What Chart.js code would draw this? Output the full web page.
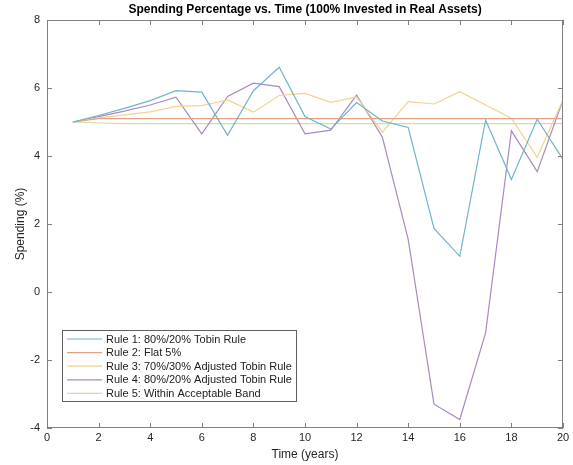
<!DOCTYPE html>
<html>
<head>
<meta charset="utf-8">
<script src="https://cdn.jsdelivr.net/npm/chart.js@4"></script>
<style>
  html, body { margin: 0; padding: 0; background: #fff; }
  #wrap { width: 573px; height: 465px; }
</style>
</head>
<body>
<div id="wrap"><canvas id="spendingChart" width="573" height="465"></canvas></div>
<script>
// values
const years = [1, 2, 3, 4, 5, 6, 7, 8, 9, 10, 11, 12, 13, 14, 15, 16, 17, 18, 19, 20]
const rule1 = [5.00, 5.19, 5.40, 5.63, 5.92, 5.88, 4.61, 5.92, 6.61, 5.16, 4.79, 5.57, 5.03, 4.84, 1.87, 1.05, 5.06, 3.31, 5.08, 3.90]
const rule2 = [5.00, 5.10, 5.10, 5.10, 5.10, 5.10, 5.10, 5.10, 5.10, 5.10, 5.10, 5.10, 5.10, 5.10, 5.10, 5.10, 5.10, 5.10, 5.10, 5.10]
const rule3 = [5.00, 5.12, 5.21, 5.30, 5.46, 5.48, 5.65, 5.29, 5.78, 5.84, 5.58, 5.74, 4.70, 5.60, 5.53, 5.89, 5.50, 5.11, 3.96, 5.65]
const rule4 = [5.00, 5.16, 5.32, 5.50, 5.73, 4.65, 5.75, 6.14, 6.04, 4.65, 4.76, 5.79, 4.55, 1.55, -3.30, -3.75, -1.20, 4.74, 3.54, 5.65]
const rule5 = [5.00, 4.97, 4.95, 4.95, 4.95, 4.95, 4.95, 4.95, 4.95, 4.95, 4.95, 4.95, 4.95, 4.95, 4.95, 4.95, 4.95, 4.95, 4.95, 4.95]
const seriesNames = [
    "Rule 1: 80%/20% Tobin Rule",
    "Rule 2: Flat 5%",
    "Rule 3: 70%/30% Adjusted Tobin Rule",
    "Rule 4: 80%/20% Adjusted Tobin Rule",
    "Rule 5: Within Acceptable Band",
]
const seriesColors = ["#6fb4cc", "#dfa487", "#f0d490", "#a98cbd", "#cddfa6"]
const xTicks = [0, 2, 4, 6, 8, 10, 12, 14, 16, 18, 20]
const yTicks = [-4, -2, 0, 2, 4, 6, 8]

const chartTitle = "Spending Percentage vs. Time (100% Invested in Real Assets)"
const FONT = "'Liberation Sans', Arial, Helvetica, sans-serif"

function toPoints(vals) {
    return vals.map((v, i) => ({x: years[i], y: v}))
}

// matlab style: box, inward ticks, title and legend inside the axes
const matlabBox = {
    id: "matlabBox",
    afterDatasetsDraw(chart) {
        const {ctx, chartArea: a, scales} = chart
        ctx.save()
        ctx.strokeStyle = "#808080"
        ctx.lineWidth = 1
        ctx.strokeRect(a.left + 0.5, a.top + 0.5, a.right - a.left - 1, a.bottom - a.top - 1)
        ctx.beginPath()
        xTicks.forEach(t => {
            const px = Math.round(scales.x.getPixelForValue(t)) + 0.5
            ctx.moveTo(px, a.bottom); ctx.lineTo(px, a.bottom - 5)
            ctx.moveTo(px, a.top); ctx.lineTo(px, a.top + 5)
        })
        yTicks.forEach(t => {
            const py = Math.round(scales.y.getPixelForValue(t)) + 0.5
            ctx.moveTo(a.left, py); ctx.lineTo(a.left + 5, py)
            ctx.moveTo(a.right, py); ctx.lineTo(a.right - 5, py)
        })
        ctx.stroke()

        // title
        ctx.fillStyle = "#000"
        ctx.font = "bold 12px " + FONT
        ctx.textAlign = "center"
        ctx.textBaseline = "middle"
        ctx.fillText(chartTitle, (a.left + a.right) / 2, a.top - 10)

        // legend
        const lx = a.left + 15, ly = a.bottom - 98, lw = 234, lh = 71
        ctx.fillStyle = "#fff"
        ctx.fillRect(lx, ly, lw, lh)
        ctx.strokeStyle = "#606060"
        ctx.strokeRect(lx + 0.5, ly + 0.5, lw, lh)
        ctx.font = "11px " + FONT
        ctx.textAlign = "left"
        chart.data.datasets.forEach((ds, i) => {
            const ry = ly + 9 + i * 13.6
            ctx.strokeStyle = ds.borderColor
            ctx.lineWidth = 1.2
            ctx.beginPath()
            ctx.moveTo(lx + 5, ry); ctx.lineTo(lx + 40, ry)
            ctx.stroke()
            ctx.fillStyle = "#222"
            ctx.fillText(ds.label, lx + 44, ry + 0.5)
        })
        ctx.restore()
    }
}

const ctx = document.getElementById("spendingChart").getContext("2d")
new Chart(ctx, {
    type: "line",
    data: {
        datasets: [rule1, rule2, rule3, rule4, rule5].map((vals, i) => ({
            label: seriesNames[i],
            data: toPoints(vals),
            borderColor: seriesColors[i],
            backgroundColor: seriesColors[i],
            borderWidth: 1.2,
            pointRadius: 0,
            tension: 0,
            fill: false,
        })),
    },
    options: {
        responsive: false,
        animation: false,
        devicePixelRatio: 1,
        layout: {
            padding: {top: 20, right: 10, left: 0, bottom: 0},
        },
        scales: {
            x: {
                type: "linear",
                min: 0,
                max: 20,
                afterBuildTicks: s => { s.ticks = xTicks.map(v => ({value: v})) },
                afterFit: s => { s.height = 37 },
                grid: {display: false, drawTicks: false},
                border: {display: false},
                ticks: {
                    color: "#262626",
                    font: {family: FONT, size: 11},
                    padding: 3,
                    maxRotation: 0,
                },
                title: {
                    display: true,
                    text: "Time (years)",
                    color: "#262626",
                    font: {family: FONT, size: 12},
                    padding: {top: 0, bottom: 3},
                },
            },
            y: {
                type: "linear",
                min: -4,
                max: 8,
                afterBuildTicks: s => { s.ticks = yTicks.map(v => ({value: v})) },
                afterFit: s => { s.width = 47 },
                grid: {display: false, drawTicks: false},
                border: {display: false},
                ticks: {
                    color: "#262626",
                    font: {family: FONT, size: 11},
                    padding: 7,
                },
                title: {
                    display: true,
                    text: "Spending (%)",
                    color: "#262626",
                    font: {family: FONT, size: 12},
                    padding: {top: 13, bottom: 0},
                },
            },
        },
        plugins: {
            legend: {display: false},
            title: {display: false},
            tooltip: {enabled: false},
        },
    },
    plugins: [matlabBox],
})
</script>
</body>
</html>
